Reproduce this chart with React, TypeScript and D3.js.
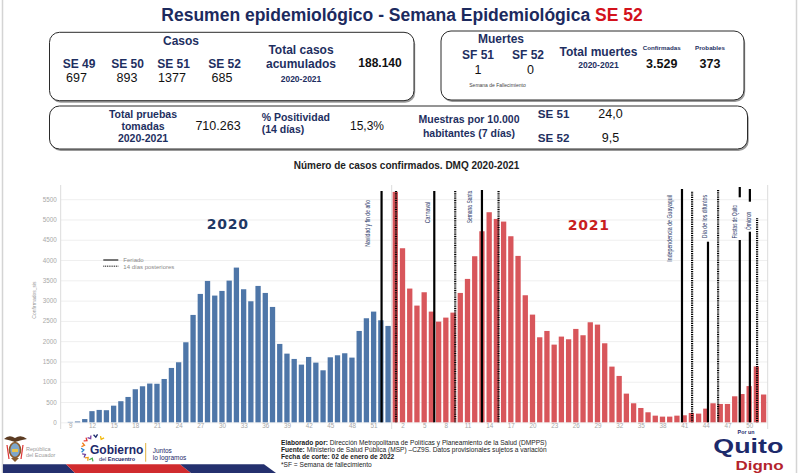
import React, { useRef, useEffect } from "react"
import * as d3 from "d3"

const width = 800
const height = 473

const navy = "#1e2f61"
const font = "Liberation Sans, Arial, sans-serif"

// semanas epidemiológicas
const weeks_2020 = [9, 10, 11, 12, 13, 14, 15, 16, 17, 18, 19, 20, 21, 22, 23, 24, 25, 26, 27, 28, 29, 30, 31, 32, 33, 34, 35, 36, 37, 38, 39, 40, 41, 42, 43, 44, 45, 46, 47, 48, 49, 50, 51, 52, 53]
const cases_2020 = [10, 20, 80, 275, 305, 298, 410, 520, 625, 815, 888, 955, 950, 1068, 1340, 1480, 1973, 2647, 3165, 3485, 3124, 3239, 3493, 3814, 3280, 2984, 3362, 3189, 2844, 1932, 1693, 1562, 1422, 1611, 1471, 1282, 1603, 1652, 1702, 1595, 2252, 2565, 2729, 2515, 2376]
const weeks_2021 = [1, 2, 3, 4, 5, 6, 7, 8, 9, 10, 11, 12, 13, 14, 15, 16, 17, 18, 19, 20, 21, 22, 23, 24, 25, 26, 27, 28, 29, 30, 31, 32, 33, 34, 35, 36, 37, 38, 39, 40, 41, 42, 43, 44, 45, 46, 47, 48, 49, 50, 51, 52]
const cases_2021 = [5680, 4291, 3297, 2877, 3206, 2729, 2482, 2581, 2704, 3189, 3535, 4094, 4710, 5179, 5014, 4948, 4587, 4102, 3132, 2655, 2096, 2252, 1915, 2113, 2047, 2302, 2146, 2466, 2408, 1948, 1373, 1143, 707, 469, 353, 247, 164, 140, 140, 164, 173, 230, 214, 337, 469, 452, 452, 641, 697, 893, 1377, 685]

const ticks_2020 = [9, 12, 15, 18, 21, 24, 27, 30, 33, 36, 39, 42, 45, 48, 51]
const ticks_2021 = [2, 5, 8, 11, 14, 17, 20, 23, 26, 29, 32, 35, 38, 41, 44, 47, 50]
const y_ticks = [0, 500, 1000, 1500, 2000, 2500, 3000, 3500, 4000, 4500, 5000, 5500]

// feriados (semana del feriado) y fin de los 14 días posteriores (2021)
const feriados = ["Navidad y fin de año", "Carnaval", "Semana Santa", "Independencia de Guayaquil", "Día de los difuntos", "Fiestas de Quito", "Ómicron"]
const feriado_anio = [2020, 2021, 2021, 2021, 2021, 2021, 2021]
const feriado_semana = [52.1, 6.4, 13.0, 40.7, 44.3, 48.7, 50.1]
const posterior_semana = [1.1, 9.3, 15.3, 42.1, 45.7, null, 51.1]

// where each holiday label/line sits (pixels)
const feriado_layout = [
  { dx: -12, top: 200, len: 46.7, line_top: 191, gap: null, dot_top: 191 },
  { dx: -4.3, top: 201.7, len: 21.6, line_top: 191, gap: null, dot_top: 191 },
  { dx: -10.4, top: 190.7, len: 32.6, line_top: 190, gap: null, dot_top: 191 },
  { dx: -9.7, top: 195, len: 66.7, line_top: 189, gap: null, dot_top: 191.7 },
  { dx: -0.7, top: 195, len: 43.3, line_top: 241.7, gap: null, dot_top: 190 },
  { dx: -3, top: 205, len: 33.3, line_top: 187, gap: [197.3, 240], dot_top: null },
  { dx: 1.3, top: 211.7, len: 18.3, line_top: 189, gap: [201.7, 231.7], dot_top: 218.3 },
]

// resumen
const casos_semana = ["SE 49", "SE 50", "SE 51", "SE 52"]
const casos_valor = ["697", "893", "1377", "685"]
const total_casos = "188.140"
const muertes_semana = ["SF 51", "SF 52"]
const muertes_valor = ["1", "0"]
const muertes_confirmadas = "3.529"
const muertes_probables = "373"
const total_pruebas = "710.263"
const positividad = "15,3%"
const muestras_semana = ["SE 51", "SE 52"]
const muestras_valor = ["24,0", "9,5"]

const Chart = () => {
  const chartRef = useRef(null)

  useEffect(() => {
    const g = d3.select(chartRef.current)
    g.selectAll("*").remove()

    const n_2020 = weeks_2020.length
    const idx = (anio, semana) => (anio === 2020 ? semana - weeks_2020[0] : n_2020 + semana - weeks_2021[0])
    const bars = [
      ...weeks_2020.map((w, i) => ({ anio: 2020, semana: w, casos: cases_2020[i] })),
      ...weeks_2021.map((w, i) => ({ anio: 2021, semana: w, casos: cases_2021[i] })),
    ]

    const x = d3.scaleLinear().domain([-0.5, bars.length - 0.5]).range([66.7, 767.2])
    const y = d3.scaleLinear().domain([0, 5500]).range([422.3, 199.2])
    const left = 60.7
    const right = 767.7
    const bar_w = 5.3

    // grid + y labels
    const yAxis = d3
      .axisLeft(y)
      .tickValues(y_ticks)
      .tickSize(-(right - left))
      .tickPadding(4)
      .tickFormat(d3.format("d"))
    g.append("g")
      .attr("transform", "translate(" + left + ",0)")
      .call(yAxis)
      .attr("font-family", font)
      .attr("font-size", 6.3)
      .call(s => s.select(".domain").remove())
      .call(s => s.selectAll("line").attr("stroke", "#efefef"))
      .call(s => s.selectAll("text").attr("fill", "#a8a8a8"))

    // x labels
    const tick_idx = [...ticks_2020.map(w => idx(2020, w)), ...ticks_2021.map(w => idx(2021, w))]
    const xAxis = d3
      .axisBottom(x)
      .tickValues(tick_idx)
      .tickSize(0)
      .tickPadding(1.5)
      .tickFormat(i => String(bars[i].semana))
    g.append("g")
      .attr("transform", "translate(0," + y(0) + ")")
      .call(xAxis)
      .attr("font-family", font)
      .attr("font-size", 6.3)
      .call(s => s.select(".domain").remove())
      .call(s => s.selectAll("text").attr("fill", "#a8a8a8"))

    // frame lines
    const frame = [left, x(n_2020 - 0.5), right]
    g.selectAll("line.frame")
      .data(frame)
      .join("line")
      .attr("class", "frame")
      .attr("x1", d => d)
      .attr("x2", d => d)
      .attr("y1", 185)
      .attr("y2", 429)
      .attr("stroke", "#dcdcdc")
      .attr("stroke-width", 1)

    // bars
    g.selectAll("rect.bar")
      .data(bars)
      .join("rect")
      .attr("class", "bar")
      .attr("x", d => x(idx(d.anio, d.semana)) - bar_w / 2)
      .attr("y", d => y(d.casos))
      .attr("width", bar_w)
      .attr("height", d => y(0) - y(d.casos))
      .attr("fill", d => (d.anio === 2020 ? "#4e76a8" : "#d8565b"))

    // holiday lines
    feriados.forEach((name, i) => {
      const lay = feriado_layout[i]
      const lx = x(idx(feriado_anio[i], feriado_semana[i]))
      const segs = lay.gap ? [[lay.line_top, lay.gap[0]], [lay.gap[1], y(0)]] : [[lay.line_top, y(0)]]
      segs.forEach(s => {
        g.append("line")
          .attr("x1", lx)
          .attr("x2", lx)
          .attr("y1", s[0])
          .attr("y2", s[1])
          .attr("stroke", "#000")
          .attr("stroke-width", 2.2)
      })
      if (posterior_semana[i] !== null) {
        const px = x(idx(2021, posterior_semana[i]))
        g.append("line")
          .attr("x1", px)
          .attr("x2", px)
          .attr("y1", lay.dot_top)
          .attr("y2", y(0))
          .attr("stroke", "#000")
          .attr("stroke-width", 2.2)
          .attr("stroke-dasharray", "1,0.8")
      }
      g.append("text")
        .attr("transform", "translate(" + (lx + lay.dx) + "," + lay.top + ") rotate(-90)")
        .attr("text-anchor", "end")
        .attr("font-family", "Liberation Sans Narrow, Liberation Sans, Arial")
        .attr("font-size", 6.3)
        .attr("fill", "#2a3968")
        .attr("textLength", lay.len)
        .attr("lengthAdjust", "spacingAndGlyphs")
        .text(name)
    })

    // legend
    const legend = [
      { label: "Feriado", dash: null },
      { label: "14 días posteriores", dash: "1,0.8" },
    ]
    legend.forEach((d, i) => {
      g.append("line")
        .attr("x1", 103.3)
        .attr("x2", 118.3)
        .attr("y1", 260 + i * 6.3)
        .attr("y2", 260 + i * 6.3)
        .attr("stroke", "#555")
        .attr("stroke-width", 1.6)
        .attr("stroke-dasharray", d.dash)
      g.append("text")
        .attr("x", 123.3)
        .attr("y", 262.2 + i * 6.3)
        .attr("font-family", font)
        .attr("font-size", 6)
        .attr("fill", "#8a8a8a")
        .text(d.label)
    })

    // year labels
    g.append("text")
      .attr("x", x(idx(2020, 30.8)))
      .attr("y", 229)
      .attr("text-anchor", "middle")
      .attr("font-family", "DejaVu Sans, Verdana")
      .attr("font-weight", "bold")
      .attr("font-size", 14)
      .attr("letter-spacing", 0.8)
      .attr("fill", "#1f3864")
      .text("2020")
    g.append("text")
      .attr("x", x(idx(2021, 27.8)))
      .attr("y", 230)
      .attr("text-anchor", "middle")
      .attr("font-family", "DejaVu Sans, Verdana")
      .attr("font-weight", "bold")
      .attr("font-size", 14)
      .attr("letter-spacing", 0.8)
      .attr("fill", "#c81e1e")
      .text("2021")

    // axis title
    g.append("text")
      .attr("transform", "translate(36,300) rotate(-90)")
      .attr("text-anchor", "middle")
      .attr("font-family", font)
      .attr("font-size", 5)
      .attr("fill", "#999")
      .text("Confirmados_sis")
  }, [])

  return <g ref={chartRef} />
}

const Box = ({ x, y, w, h }) => (
  <g>
    <rect x={x + 1.2} y={y + 2} width={w} height={h} rx={10} fill="#9a9a9a" />
    <rect x={x} y={y} width={w} height={h} rx={10} fill="#fff" stroke="#2b2b2b" strokeWidth={1} />
  </g>
)

const T = ({ x, y, size = 12, bold = true, color = navy, anchor = "middle", children }) => (
  <text x={x} y={y} fontSize={size} fontWeight={bold ? "bold" : "normal"} fill={color} textAnchor={anchor} fontFamily={font}>
    {children}
  </text>
)

const chevrons = [
  [86, 440, "#e53935"],
  [90, 437.7, "#7b3fa0"],
  [95.7, 436, "#1b2a6b"],
  [101.7, 438.3, "#f2b705"],
  [83.3, 445, "#f07f1a"],
  [82.7, 450, "#2a86d1"],
  [84.3, 455, "#6a3d9a"],
  [87.3, 458.3, "#f39c12"],
  [91.7, 459.3, "#4caf50"],
]

const App = () => {
  const se_x = [79, 127.5, 173.5, 224.5]
  const val_x = [76.5, 127, 172, 222]
  return (
    <svg width={width} height={height} style={{ position: "absolute", left: 0, top: 0, background: "#fff" }}>
      <rect x={0} y={0} width={width} height={height} fill="#fff" />
      <line x1={2.5} x2={2.5} y1={0} y2={height} stroke="#d4d4d4" strokeWidth={1.5} />
      <line x1={796.5} x2={796.5} y1={0} y2={height} stroke="#d4d4d4" strokeWidth={1.5} />

      {/* title */}
      <text x={402} y={21} textAnchor="middle" fontFamily={font} fontWeight="bold" fontSize={17.5} fill="#1c2a5e">
        Resumen epidemiológico - Semana Epidemiológica <tspan fill="#d3121c">SE 52</tspan>
      </text>

      {/* casos */}
      <Box x={49.5} y={32.3} w={364.5} h={68.4} />
      <T x={181} y={45}>Casos</T>
      {casos_semana.map((s, i) => (
        <T key={s} x={se_x[i]} y={67.7}>{s}</T>
      ))}
      {casos_valor.map((v, i) => (
        <T key={i} x={val_x[i]} y={82.3} size={12.5} bold={false} color="#111">{v}</T>
      ))}
      <T x={301} y={54}>Total casos</T>
      <T x={301} y={68.3}>acumulados</T>
      <T x={301} y={81.7} size={8.5}>2020-2021</T>
      <T x={380} y={66.7} color="#111">{total_casos}</T>

      {/* muertes */}
      <Box x={441} y={31} w={303} h={69} />
      <T x={501} y={43.3}>Muertes</T>
      {muertes_semana.map((s, i) => (
        <T key={s} x={478 + i * 50} y={59.3}>{s}</T>
      ))}
      {muertes_valor.map((v, i) => (
        <T key={i} x={478 + i * 52.6} y={74} size={12.5} bold={false} color="#111">{v}</T>
      ))}
      <T x={497.5} y={86.7} size={5} bold={false} color="#444">Semana de Fallecimiento</T>
      <T x={598.5} y={56}>Total muertes</T>
      <T x={598.5} y={67.7} size={8.5}>2020-2021</T>
      <T x={661.7} y={50} size={6.2}>Confirmadas</T>
      <T x={661.7} y={68.3} size={12.5} color="#111">{muertes_confirmadas}</T>
      <T x={710} y={50} size={6.2}>Probables</T>
      <T x={710} y={68} size={12.5} color="#111">{muertes_probables}</T>

      {/* pruebas */}
      <Box x={49.5} y={106} w={698} h={43} />
      <T x={143} y={118.3} size={10.5}>Total pruebas</T>
      <T x={143} y={130} size={10.5}>tomadas</T>
      <T x={143} y={141.7} size={10.5}>2020-2021</T>
      <T x={218} y={130} size={12.5} bold={false} color="#111">{total_pruebas}</T>
      <T x={261.7} y={120.7} size={10.5} anchor="start">% Positividad</T>
      <T x={261.7} y={133.3} size={10.5} anchor="start">(14 días)</T>
      <T x={367} y={130} size={12} bold={false} color="#111">{positividad}</T>
      <T x={469} y={123.3} size={10.5}>Muestras por 10.000</T>
      <T x={469} y={137.3} size={10.5}>habitantes (7 días)</T>
      {muestras_semana.map((s, i) => (
        <T key={s} x={553.6} y={117.8 + i * 24} size={11.6}>{s}</T>
      ))}
      {muestras_valor.map((v, i) => (
        <T key={i} x={610.5} y={118.3 + i * 23.4} size={12.5} bold={false} color="#111">{v}</T>
      ))}

      {/* chart */}
      <T x={406.5} y={168.5} size={10} color="#222">Número de casos confirmados. DMQ 2020-2021</T>
      <Chart />

      {/* footer */}
      <g fontFamily={font} fontSize={6.6} fill="#1a1a1a">
        <text x={281} y={444.7}>
          <tspan fontWeight="bold">Elaborado por: </tspan>Dirección Metropolitana de Políticas y Planeamiento de la Salud (DMPPS)
        </text>
        <text x={281} y={451.9}>
          <tspan fontWeight="bold">Fuente: </tspan>Ministerio de Salud Pública (MSP) –CZ9S. Datos provisionales sujetos a variación
        </text>
        <text x={281} y={459.2} fontWeight="bold">Fecha de corte: 02 de enero de 2022</text>
        <text x={281} y={466.7}>*SF = Semana de fallecimiento</text>
      </g>

      {/* escudo */}
      <g>
        <path d="M4,439 Q9,434 15,438 Q21,434 27,439 Q21,440 15,442 Q9,440 4,439 Z" fill="#5b3b22" />
        <ellipse cx={15} cy={450} rx={5.5} ry={7.5} fill="#7ea6c9" stroke="#8a5a2b" strokeWidth={1.6} />
        <rect x={12} y={449} width={6} height={3} fill="#e8c34a" />
        <line x1={7} x2={9} y1={445} y2={459} stroke="#d33" strokeWidth={1.2} />
        <line x1={23} x2={21} y1={445} y2={459} stroke="#d33" strokeWidth={1.2} />
        <path d="M11,458 L15,462 L19,458 Z" fill="#8a5a2b" />
      </g>
      <text x={26} y={451} fontFamily={font} fontSize={5.5} fill="#9a9a9a">República</text>
      <text x={26} y={456.5} fontFamily={font} fontSize={5.5} fill="#9a9a9a">del Ecuador</text>

      {/* gobierno del encuentro */}
      {chevrons.map((c, i) => {
        const ang = (Math.atan2(448 - c[1], 97 - c[0]) * 180) / Math.PI - 90
        return (
          <path
            key={i}
            d="M-2,-1.4 L0,1.2 L2,-1.4"
            transform={"translate(" + c[0] + "," + c[1] + ") rotate(" + ang + ")"}
            fill="none"
            stroke={c[2]}
            strokeWidth={1.3}
          />
        )
      })}
      <text x={90} y={454} fontFamily={font} fontWeight="bold" fontSize={12} fill="#1d2a6b">Gobierno</text>
      <text x={99} y={460.5} fontFamily={font} fontWeight="bold" fontSize={5.5} fill="#1d2a6b">
        <tspan fontWeight="normal">del</tspan> Encuentro
      </text>
      <line x1={145.7} x2={145.7} y1={443} y2={461.7} stroke="#e0b040" strokeWidth={1} />
      <text x={152.7} y={453} fontFamily={font} fontSize={6.5} fill="#1d2a6b">Juntos</text>
      <text x={152.7} y={460} fontFamily={font} fontSize={6.5} fill="#1d2a6b">lo logramos</text>

      {/* franja */}
      <polygon points="3,464.3 66,464.3 75,473 3,473" fill="#24306e" />
      <polygon points="66,464.3 180,464.3 191,473 75,473" fill="#d02b2e" />
      <polygon points="180,464.3 264,464.3 276,473 191,473" fill="#24306e" />

      {/* quito digno */}
      <text x={746} y={433.5} textAnchor="middle" fontFamily={font} fontWeight="bold" fontSize={5.3} fill="#1d2a6b">Por un</text>
      <text x={713.3} y={453} fontFamily={font} fontWeight="bold" fontSize={20} fill="#1d2a6b" textLength={70} lengthAdjust="spacingAndGlyphs">Quito</text>
      <text x={735.5} y={469.5} fontFamily={font} fontWeight="bold" fontSize={13} fill="#b4232c" textLength={48} lengthAdjust="spacingAndGlyphs">Digno</text>
    </svg>
  )
}

export default App
